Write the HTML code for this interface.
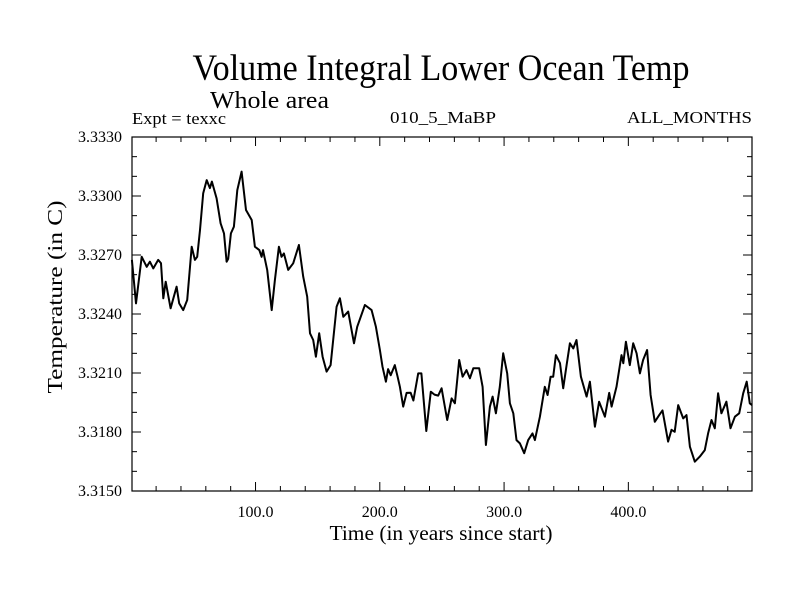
<!DOCTYPE html>
<html><head><meta charset="utf-8"><style>
html,body{margin:0;padding:0;background:#fff;}
svg{display:block;font-family:"Liberation Serif",serif;}
</style></head><body>
<svg id="chart" width="800" height="600" viewBox="0 0 800 600">
<text x="441" y="80" font-size="37" text-anchor="middle" textLength="497" lengthAdjust="spacingAndGlyphs">Volume Integral Lower Ocean Temp</text>
<text x="210" y="108" font-size="24" textLength="119" lengthAdjust="spacingAndGlyphs">Whole area</text>
<text x="132" y="124" font-size="17" textLength="94" lengthAdjust="spacingAndGlyphs">Expt = texxc</text>
<text x="390" y="123" font-size="17" textLength="106" lengthAdjust="spacingAndGlyphs">010_5_MaBP</text>
<text x="752" y="123" font-size="17" text-anchor="end" textLength="125" lengthAdjust="spacingAndGlyphs">ALL_MONTHS</text>
<text x="441" y="540" font-size="21" text-anchor="middle" textLength="223" lengthAdjust="spacingAndGlyphs">Time (in years since start)</text>
<text transform="translate(62,297) rotate(-90)" font-size="21" text-anchor="middle" textLength="193" lengthAdjust="spacingAndGlyphs">Temperature (in C)</text>
<g id="axes"></g>
<path id="series" fill="none" stroke="#000" stroke-width="2" stroke-linejoin="round"></path>
<rect x="132" y="137" width="620" height="354" fill="none" stroke="#000" stroke-width="1.2"></rect>
</svg>
<script>
const years=[0.5,3.8,8.4,12.4,15,17.7,21.7,23.9,25.8,27.7,31.7,36.5,38.6,41.8,45,48.6,51.2,53.1,55.3,57.9,60.7,63.3,64.9,68.7,71.9,74.6,76.7,78,80.2,82.6,85.3,88.8,92.3,96.9,99.5,103,104.9,106,109.4,113,115.6,118.8,120.9,122.8,126.3,130.3,134.9,138.4,141.6,143.8,146.4,148.6,151.2,154,157.2,160.4,165.2,167.9,170.6,174.6,179.2,181.8,188,193.4,196.9,200.1,202.2,204.9,206.7,208.8,212.1,214.3,216.2,218.8,221.6,224.8,227,230.9,233.5,237.4,241,244,247,249.7,254.2,257.8,260.4,263.9,266.6,269.8,272.5,275.2,280,282.7,285.4,288.6,290.8,293.4,296.6,299.3,302.5,304.7,307.4,310,312.7,316.2,319.4,322.9,324.8,328.8,332.8,335,337.4,339.5,341.7,345,347.6,350.3,353,355.7,358.3,361.8,366.4,369.1,373.1,376.5,381.1,384.6,386.5,390.5,394.5,395.9,398,401.2,403.9,406.6,409.3,411.9,415.1,417.9,421.3,424.8,427.5,432,434.7,437.3,440.1,444.1,446.8,449.5,453.5,457.5,461.5,464.2,466.9,469.6,472.2,474.9,478.9,482.2,485.7,489.2,492.4,495.2,497.7,499.5];
const temps=[3.32675,3.32454,3.32691,3.3264,3.32666,3.32632,3.32675,3.32658,3.3248,3.32564,3.32429,3.32539,3.32454,3.3242,3.32471,3.32742,3.32675,3.32691,3.32827,3.33014,3.33081,3.3304,3.33073,3.32988,3.32861,3.3281,3.32666,3.3268,3.3281,3.32844,3.3303,3.33124,3.32929,3.32878,3.32742,3.32725,3.32691,3.32725,3.32624,3.3242,3.32573,3.32742,3.32691,3.32708,3.32624,3.32658,3.32751,3.3259,3.32488,3.32302,3.32268,3.32183,3.32302,3.32183,3.32107,3.3214,3.32437,3.3248,3.32386,3.32412,3.32251,3.32335,3.32446,3.3242,3.32335,3.32217,3.32132,3.32056,3.3212,3.32089,3.3214,3.32081,3.3203,3.31929,3.31999,3.32,3.3196,3.32098,3.32098,3.31805,3.32005,3.3199,3.31985,3.32022,3.31861,3.31971,3.31946,3.32166,3.32081,3.32115,3.32073,3.32124,3.32124,3.3203,3.31734,3.31929,3.3198,3.31895,3.3203,3.322,3.32098,3.31946,3.31895,3.31759,3.31742,3.31692,3.31759,3.31793,3.31759,3.31878,3.3203,3.31988,3.32081,3.32081,3.32191,3.3215,3.32022,3.3214,3.32251,3.32225,3.32268,3.32081,3.3198,3.32056,3.31827,3.31954,3.31878,3.31999,3.31929,3.3203,3.32191,3.3215,3.32259,3.3214,3.32251,3.322,3.32098,3.32166,3.32217,3.31988,3.31852,3.31886,3.3191,3.31751,3.31811,3.31801,3.31937,3.31869,3.31886,3.31725,3.31649,3.31675,3.31708,3.31793,3.31861,3.31819,3.31997,3.31895,3.31954,3.31819,3.31878,3.31895,3.31997,3.32056,3.31946,3.31937];
const yTickValues=[3.315,3.318,3.321,3.324,3.327,3.330,3.333];
const yTickLabels=["3.3150","3.3180","3.3210","3.3240","3.3270","3.3300","3.3330"];
const xTickValues=[100,200,300,400];
const xTickLabels=["100.0","200.0","300.0","400.0"];
const L=132,R=752,T=137,B=491,X0=0.6,X1=499.5,Y0=3.315,Y1=3.333;
function sx(v){return L+(v-X0)/(X1-X0)*(R-L);}
function sy(v){return B-(v-Y0)/(Y1-Y0)*(B-T);}
const NS="http://www.w3.org/2000/svg";
const ax=document.getElementById('axes');
function line(x1,y1,x2,y2,name){const l=document.createElementNS(NS,'line');
l.setAttribute('x1',x1);l.setAttribute('y1',y1);l.setAttribute('x2',x2);l.setAttribute('y2',y2);
l.setAttribute('stroke','#000');l.setAttribute('stroke-width','1');


ax.appendChild(l);}
function txt(x,y,s,anchor,name){const t=document.createElementNS(NS,'text');
t.setAttribute('x',x);t.setAttribute('y',y);t.setAttribute('font-size','16');t.setAttribute('text-anchor',anchor);t.textContent=s;


ax.appendChild(t);}
for(let v=20;v<X1;v+=20){const x=sx(v);const major=v%100===0;const len=major?9:5;
line(x,B,x,B-len,'x-tick');line(x,T,x,T+len,'x-tick-top');}
xTickValues.forEach((v,i)=>txt(sx(v),517,xTickLabels[i],'middle','x-tick-label'));
for(let k=0;k<=18;k++){const v=Y0+k*0.001;const y=sy(v);const major=k%3===0;const len=major?9:5;
line(L,y,L+len,y,'y-tick');line(R,y,R-len,y,'y-tick-right');}
yTickValues.forEach((v,i)=>txt(122,sy(v)+5,yTickLabels[i],'end','y-tick-label'));
let d='';years.forEach((y,i)=>{d+=(i?'L':'M')+sx(y).toFixed(1)+','+sy(temps[i]).toFixed(1);});
document.getElementById('series').setAttribute('d',d);
</script>
</body></html>
